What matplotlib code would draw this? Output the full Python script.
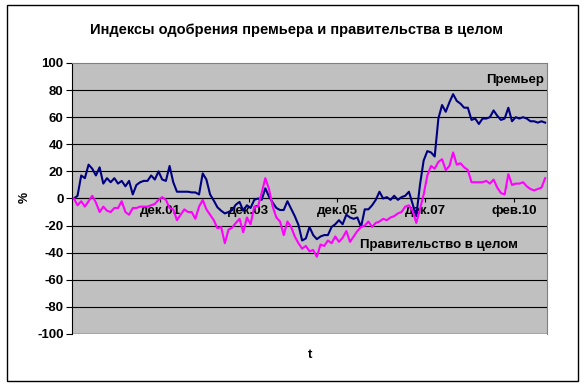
import matplotlib
matplotlib.use('Agg')
import matplotlib.pyplot as plt
from matplotlib.patches import Rectangle

plt.rcParams['font.family'] = ['Liberation Sans', 'DejaVu Sans']

# approval index of the premier (navy) and the government as a whole (magenta)
premier = [0, 2, 17, 15, 25, 22, 17, 23, 11, 15,
           12, 15, 11, 13, 9, 13, 3, 10, 12, 13,
           13, 17, 14, 20, 14, 13, 24, 12, 5, 5,
           5, 5, 4.5, 4.5, 3, 18.5, 14, 3, -1.5, -6.5,
           -9, -11, -10, -8.5, -4.5, -2.5, -9, -5, -7, -1,
           0, -1, 7.5, 1.5, -3, -7, -8.5, -8.5, -2, -7.5,
           -13, -19.5, -31, -29.5, -21, -27, -30, -28, -27, -27,
           -21, -19, -16, -19, -12, -14, -15, -14, -21, -8,
           -8, -5, -1, 5, 0, 1, -1, 2, -1, 1,
           2, 5, -4, -13, 10, 28, 35, 34, 31, 59,
           69, 64, 71, 77, 72, 70, 67, 67, 58, 59,
           55, 59, 59, 60, 65, 61, 58, 59, 67, 57,
           60, 59, 60, 59, 57, 57, 56, 57, 56]

government = [0, -5, -2, -6, -2, 2, -3, -10, -6, -9,
              -10, -7, -7, -2, -10, -12, -7, -7, -6, -6,
              -6, -5, -4, -1, 1, -1, -7, -8, -16, -12,
              -8, -10, -10, -15, -6, -1, -8, -12, -16, -22,
              -21, -33, -23, -21.5, -18, -15, -25, -14, -19, -6,
              -6, 4, 15, 7, -6, -14, -17, -27, -17, -21,
              -28, -33, -37, -35, -39, -38, -43, -34, -35, -31,
              -33, -28, -32, -29, -24, -32, -28, -24, -21, -20,
              -17, -21, -18, -17, -15, -16, -14, -13, -11, -10,
              -6, -5, -9, -18, -8, 3, 17, 24, 22, 27,
              29, 21, 24, 34, 25, 26, 23, 21, 12, 12,
              12, 12, 13, 11, 14, 8, 4, 3, 18, 10,
              11, 11, 12, 9, 7, 6, 7, 8, 15]

tick_idx = [23.5, 47.5, 71.5, 95.5, 119.5]
tick_labels = ['дек.01', 'дек.03', 'дек.05', 'дек.07', 'фев.10']
y_ticks = list(range(-100, 101, 20))

fig = plt.figure(figsize=(5.84, 3.86), dpi=100)
fig.patches.append(Rectangle((7 / 584, 5 / 386), 571 / 584, 376 / 386, transform=fig.transFigure,
                             fill=False, edgecolor='black', linewidth=1.0))
ax = fig.add_axes([72 / 584, 1 - 334 / 386, 475 / 584, 271 / 386])
ax.set_facecolor('#c0c0c0')

x = list(range(len(premier)))
for v in y_ticks[1:-1]:
    ax.axhline(v, color='black', linewidth=0.8, zorder=1)
ax.axhline(-100, color='#404040', linewidth=1.0, zorder=1)

ax.plot(x, premier, color='#000080', linewidth=1.5, zorder=3)
ax.plot(x, government, color='#ff00ff', linewidth=1.5, zorder=3)

ax.set_xlim(-0.5, len(premier) - 0.5)
ax.set_ylim(-100, 100)

ax.spines['bottom'].set_position(('data', 0))
ax.spines['bottom'].set_color('black')
ax.spines['bottom'].set_linewidth(0.8)
ax.spines['top'].set_color('#808080')
ax.spines['right'].set_color('#808080')
ax.spines['left'].set_color('black')

ax.set_xticks(tick_idx)
ax.set_xticklabels(tick_labels, fontsize=9.5, fontweight='bold')
ax.tick_params(axis='x', direction='out', length=3, pad=2, width=0.8)
ax.set_yticks(y_ticks)
ax.set_yticklabels([str(v) for v in y_ticks], fontsize=9.5, fontweight='bold')
ax.tick_params(axis='y', direction='out', length=4, pad=2, width=0.8)

ax.text(0.994, 0.937, 'Премьер', transform=ax.transAxes, ha='right', va='center',
        fontsize=9.5, fontweight='bold')
ax.text(0.773, 0.328, 'Правительство в целом', transform=ax.transAxes, ha='center', va='center',
        fontsize=9.5, fontweight='bold')

fig.text(296 / 584, 1 - 30 / 386, 'Индексы одобрения премьера и правительства в целом',
         ha='center', va='center', fontsize=10.5, fontweight='bold')
fig.text(25 / 584, 1 - 197 / 386, '%', rotation=90, ha='center', va='center',
         fontsize=9, fontweight='bold')
fig.text(310 / 584, 1 - 355 / 386, 't', ha='center', va='center', fontsize=9.5, fontweight='bold')

fig.savefig('out.png', dpi=100)
